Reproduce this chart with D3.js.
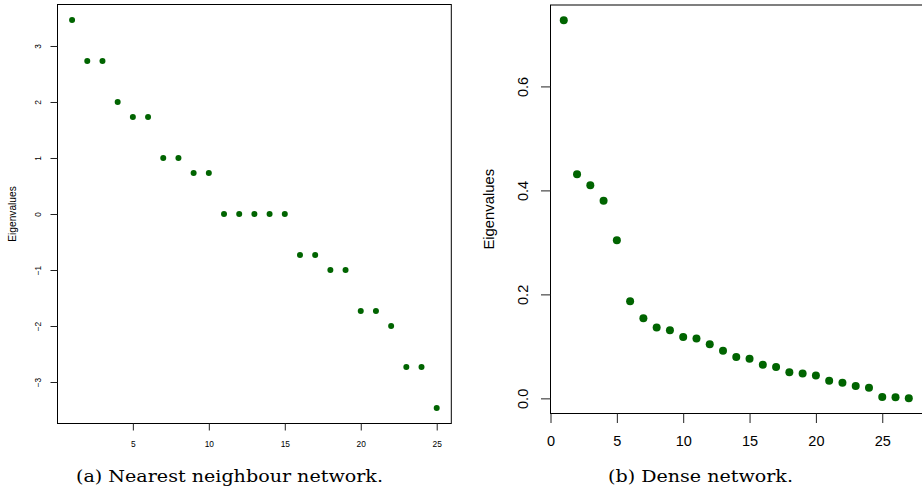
<!DOCTYPE html>
<html>
<head>
<meta charset="utf-8">
<script src="https://cdn.jsdelivr.net/npm/d3@7"></script>
<style>
  html, body { margin: 0; padding: 0; background: #fff; }
  svg { display: block; }
  .tick text { font-family: "Liberation Sans", Arial, Helvetica, sans-serif; fill: #000; }
  .caption { font-family: "DejaVu Serif", "Liberation Serif", serif; fill: #000; }
</style>
</head>
<body>
<svg id="fig" width="922" height="493"></svg>
<script>
// Panel (a): eigenvalues of the nearest neighbour network, sorted
const nnValues = [3.464, 2.732, 2.732, 2.0, 1.732, 1.732, 1.0, 1.0, 0.732, 0.732,
                  0, 0, 0, 0, 0, -0.732, -0.732, -1.0, -1.0, -1.732,
                  -1.732, -2.0, -2.732, -2.732, -3.464];
const nnXTicks = [5, 10, 15, 20, 25];
const nnYTicks = [-3, -2, -1, 0, 1, 2, 3];

// Panel (b): eigenvalues of the dense network, sorted
const denseValues = [0.7275, 0.431, 0.410, 0.380, 0.304, 0.187, 0.154, 0.1365, 0.131, 0.118,
                     0.115, 0.104, 0.0916, 0.0794, 0.0762, 0.0646, 0.0602, 0.050, 0.048, 0.0442,
                     0.0339, 0.030, 0.0237, 0.0205, 0.0026, 0.002, 0.0];
const denseXTicks = [0, 5, 10, 15, 20, 25];
const denseYTicks = [0.0, 0.2, 0.4, 0.6];
const denseYTickLabels = ["0.0", "0.2", "0.4", "0.6"];

const captions = ["(a) Nearest neighbour network.", "(b) Dense network."];
const yTitle = "Eigenvalues";
const dotColor = "#006400";

const svg = d3.select("#fig");
const fmtMinus = v => (v < 0 ? "\u2212" + Math.abs(v) : String(v));

function drawPanel(cfg) {
  const g = svg.append("g");
  const x = d3.scaleLinear().domain(cfg.xDomain).range(cfg.xRange);
  const y = d3.scaleLinear().domain(cfg.yDomain).range(cfg.yRange);

  // frame
  g.append("rect")
    .attr("x", cfg.box[0]).attr("y", cfg.box[1])
    .attr("width", cfg.box[2]).attr("height", cfg.box[3])
    .attr("fill", "none").attr("stroke", "#000").attr("stroke-width", 1);

  // bottom axis
  const xa = g.append("g")
    .attr("transform", `translate(0,${cfg.axisY})`)
    .call(d3.axisBottom(x).tickValues(cfg.xTicks).tickSize(cfg.tickLen).tickSizeOuter(0).tickFormat(d => String(d)));
  xa.select(".domain").remove();
  xa.selectAll(".tick line").attr("stroke", "#222");
  xa.selectAll(".tick text")
    .attr("font-size", cfg.font + "px")
    .attr("y", cfg.xLabelOffset).attr("dy", "0.36em");

  // left axis, labels parallel to the axis
  const ya = g.append("g")
    .attr("transform", `translate(${cfg.axisX},0)`)
    .call(d3.axisLeft(y).tickValues(cfg.yTicks).tickSize(cfg.tickLen).tickSizeOuter(0)
      .tickFormat((d, i) => cfg.yTickLabels ? cfg.yTickLabels[i] : fmtMinus(d)));
  ya.select(".domain").remove();
  ya.selectAll(".tick line").attr("stroke", "#222");
  ya.selectAll(".tick text")
    .attr("font-size", cfg.font + "px")
    .attr("x", null).attr("dy", "0.36em")
    .attr("text-anchor", "middle")
    .attr("transform", `translate(${-cfg.yLabelOffset},0) rotate(-90)`);

  // axis title
  g.append("text")
    .attr("transform", `translate(${cfg.titleX},${(cfg.yRange[0] + cfg.yRange[1]) / 2}) rotate(-90)`)
    .attr("dy", "0.36em")
    .attr("text-anchor", "middle")
    .attr("font-family", "'Liberation Sans', Arial, Helvetica, sans-serif")
    .attr("font-size", cfg.titleFont + "px")
    .text(yTitle);

  // points
  g.append("g").selectAll("circle")
    .data(cfg.values)
    .join("circle")
    .attr("cx", (d, i) => x(i + 1))
    .attr("cy", d => y(d))
    .attr("r", cfg.r)
    .attr("fill", dotColor);

  // caption
  g.append("text")
    .attr("class", "caption")
    .attr("x", cfg.captionX).attr("y", 481.5)
    .attr("text-anchor", "middle")
    .attr("font-size", "17.5px")
    .attr("textLength", cfg.captionLen)
    .attr("lengthAdjust", "spacingAndGlyphs")
    .text(cfg.caption);
}

drawPanel({
  values: nnValues,
  xDomain: [0.04, 25.96], xRange: [57.5, 451.3],
  yDomain: [-3.741, 3.741], yRange: [423.5, 4.5],
  box: [57.5, 4.5, 393.8, 419],
  axisY: 423.5, axisX: 57.5,
  xTicks: nnXTicks, yTicks: nnYTicks,
  tickLen: 7, font: 8.4,
  xLabelOffset: 20, yLabelOffset: 19.2,
  titleX: 12, titleFont: 10.2,
  r: 3,
  caption: captions[0], captionX: 229.5, captionLen: 307
});

drawPanel({
  values: denseValues,
  xDomain: [0, 28.5], xRange: [550.5, 550.5 + 28.5 * 13.27],
  yDomain: [-0.0291, 0.7566], yRange: [413.5, 5],
  box: [550.5, 5, 420, 408.5],
  axisY: 413.5, axisX: 550.5,
  xTicks: denseXTicks, yTicks: denseYTicks, yTickLabels: denseYTickLabels,
  tickLen: 9.5, font: 14.5,
  xLabelOffset: 27.5, yLabelOffset: 27.3,
  titleX: 488.3, titleFont: 14.8,
  r: 4,
  caption: captions[1], captionX: 700.5, captionLen: 185
});
</script>
</body>
</html>
